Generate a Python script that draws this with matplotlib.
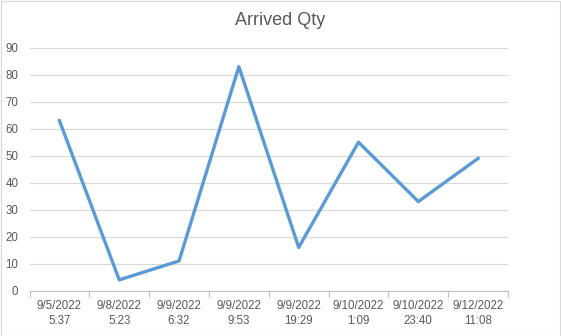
import matplotlib
matplotlib.use('Agg')
import matplotlib.pyplot as plt
import numpy as np

# 数据
labels = ['9/5/2022\n5:37', '9/8/2022\n5:23', '9/9/2022\n6:32', '9/9/2022\n9:53',
          '9/9/2022\n19:29', '9/10/2022\n1:09', '9/10/2022\n23:40', '9/12/2022\n11:08']
qty = [63, 4, 11, 83, 16, 55, 33, 49]

plt.rcParams['font.family'] = ['Liberation Sans', 'DejaVu Sans']

fig = plt.figure(figsize=(5.61, 3.36), dpi=100)
ax = fig.add_axes([0.0526, 0.135, 0.853, 0.723])

x = np.arange(len(labels))
ax.plot(x, qty, color='#5B9BD5', linewidth=2.4, solid_joinstyle='round')

ax.set_xlim(-0.5, len(labels) - 0.5)
ax.set_ylim(0, 90)
ax.set_yticks(np.arange(0, 91, 10))
ax.yaxis.grid(True, color='#D9D9D9', linewidth=0.8)
ax.set_axisbelow(True)

# 类别轴: 刻度在类别之间
ax.set_xticks(x)
ax.set_xticklabels(labels, fontsize=8.3, color='#595959', linespacing=1.25)
ax.set_xticks(np.arange(-0.5, len(labels), 1), minor=True)
ax.tick_params(axis='x', which='major', length=0, pad=7)
ax.tick_params(axis='x', which='minor', length=4, color='#BFBFBF', width=0.8)
ax.tick_params(axis='y', length=0, labelsize=8.3, labelcolor='#595959', pad=8)

for s in ['top', 'right', 'left']:
    ax.spines[s].set_visible(False)
ax.spines['bottom'].set_color('#BFBFBF')
ax.spines['bottom'].set_linewidth(0.8)

fig.text(0.5, 0.94, 'Arrived Qty', ha='center', va='center', fontsize=13, color='#595959')

# 外框
fig.patches.append(plt.Rectangle((0.001, 0.001), 0.997, 0.996, transform=fig.transFigure,
                                 fill=False, edgecolor='#D9D9D9', linewidth=0.8))

fig.savefig('out.png', dpi=100)
